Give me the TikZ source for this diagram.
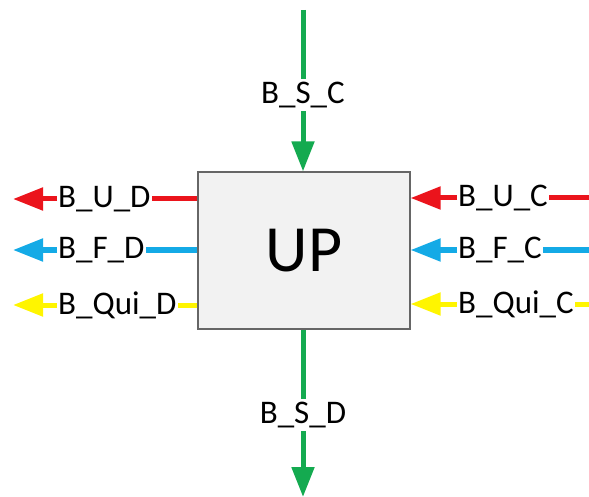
\documentclass[tikz,border=0pt]{standalone}
\usepackage{fontspec}
\setmainfont{Carlito}
\usetikzlibrary{arrows.meta, positioning, calc}
\definecolor{bred}{RGB}{235,20,28}
\definecolor{bblue}{RGB}{20,170,230}
\definecolor{byellow}{RGB}{255,245,0}
\definecolor{bgreen}{RGB}{20,170,80}

\begin{document}
\begin{tikzpicture}[
    x=1pt, y=-1pt,
    box/.style={draw=gray!80!black, fill=gray!10, line width=1.2pt,
      minimum width=212pt, minimum height=157pt,
      font=\fontsize{66}{72}\selectfont},
    lbl/.style={inner xsep=1pt, inner ysep=3pt, font=\fontsize{33}{36}\selectfont},
    seg/.style={line width=5pt},
    flow/.style={line width=5pt, -{Triangle[length=30pt, width=22pt]}}
    ]
    \useasboundingbox (0,0) rectangle (589,497);

    % Unit
    \node[box] (up) at (304,250.5) {UP};

    % Top and bottom
    \coordinate (sctop) at (303,10);
    \node[lbl] (bsc) at (303,95) {B\_S\_C};
    \draw[seg, bgreen] (sctop) -- (bsc);
    \draw[flow, bgreen] (bsc) -- (bsc |- up.north);

    \coordinate (sdtip) at (303,497);
    \node[lbl] (bsd) at (303,415) {B\_S\_D};
    \draw[seg, bgreen] (bsd |- up.south) -- (bsd);
    \draw[flow, bgreen] (bsd) -- (sdtip);

    % Left side (outgoing)
    \foreach \nm/\yy/\col/\txt in {ud/199/bred/B\_U\_D, fd/250/bblue/B\_F\_D, qd/305/byellow/B\_Qui\_D}{
      \node[lbl, anchor=west] (L\nm) at (57,\yy) {\txt};
      \coordinate (T\nm) at (13,\yy);
      \draw[seg, \col] (up.west |- L\nm) -- (L\nm.east);
      \draw[flow, \col] (L\nm.west) -- (T\nm);
    }

    % Right side (incoming)
    \foreach \nm/\yy/\col/\txt in {uc/198/bred/B\_U\_C, fc/250/bblue/B\_F\_C, qc/304/byellow/B\_Qui\_C}{
      \node[lbl, anchor=west] (R\nm) at (457,\yy) {\txt};
      \coordinate (S\nm) at (589,\yy);
      \draw[seg, \col] (S\nm) -- (R\nm.east);
      \draw[flow, \col] (R\nm.west) -- (up.east |- R\nm);
    }
\end{tikzpicture}
\end{document}
